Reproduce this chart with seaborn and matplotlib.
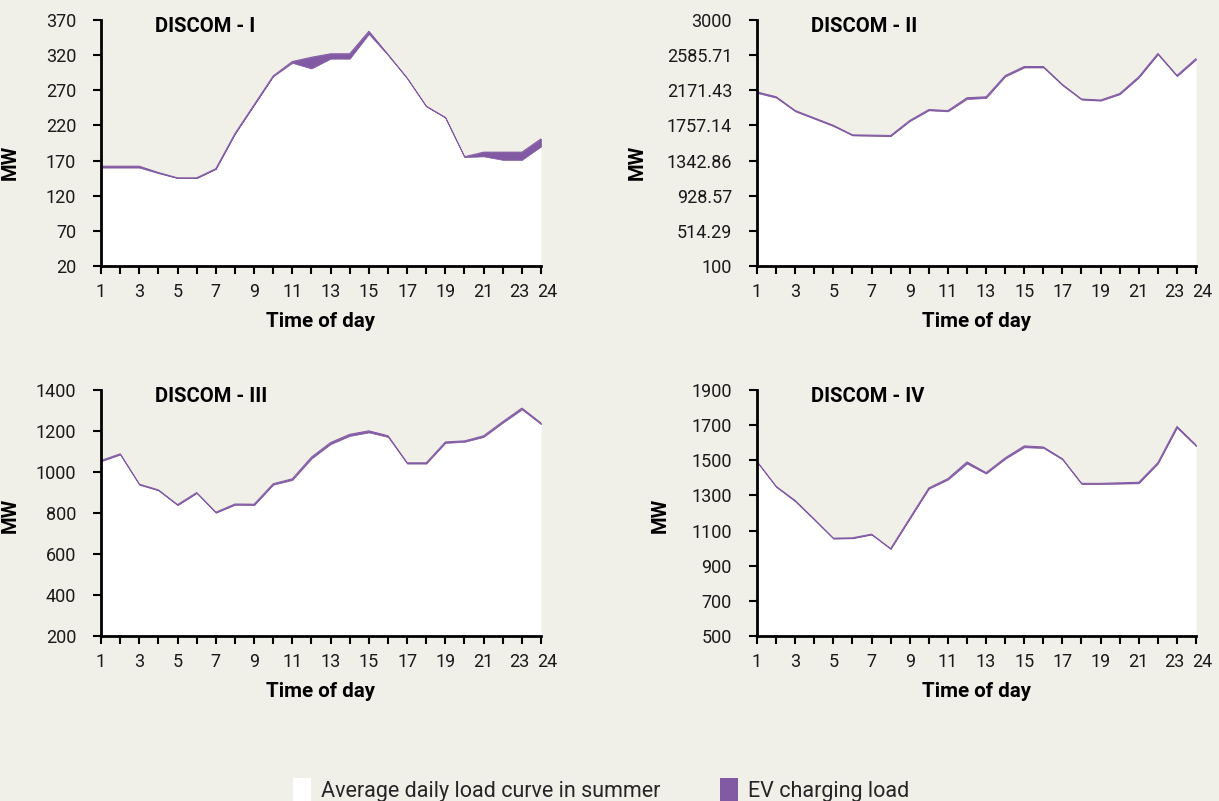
import matplotlib
matplotlib.use("Agg")
import matplotlib.pyplot as plt
import matplotlib.transforms as mtransforms
from matplotlib.patches import Patch
import seaborn as sns
import pandas as pd

# Hour of day
hours = list(range(1, 25))
hour_labels = [str(h) if (h % 2 == 1 or h == 24) else "" for h in hours]

# Average daily summer load (MW) per DISCOM
base_1 = [160, 160, 160, 152, 145, 145, 158, 208, 249, 290, 309, 301,
          315, 315, 350, 320, 287, 247, 231, 175, 176, 171, 171, 190]
base_2 = [2140, 2084, 1923, 1836, 1749, 1639, 1635, 1631, 1808, 1935, 1923, 2069,
          2080, 2333, 2440, 2440, 2230, 2061, 2049, 2124, 2321, 2594, 2337, 2534]
base_3 = [1052, 1085, 938, 910, 838, 897, 801, 840, 838, 938, 961, 1065,
          1136, 1176, 1193, 1171, 1041, 1041, 1142, 1147, 1171, 1240, 1305, 1233]
base_4 = [1490, 1348, 1266, 1161, 1054, 1056, 1077, 995, 1167, 1338, 1390, 1481,
          1424, 1508, 1574, 1570, 1504, 1365, 1365, 1367, 1369, 1481, 1685, 1580]

# Additional EV charging load (MW) stacked on top
ev_1 = [2, 2, 2, 1, 0.5, 0.5, 0.5, 0.5, 0.5, 0.5, 2, 16,
        7, 7, 4, 1, 0.5, 0.5, 0.5, 0.5, 6, 11, 11, 11]
ev_2 = [12, 12, 10, 10, 10, 8, 8, 8, 8, 10, 10, 15,
        15, 12, 12, 12, 10, 8, 8, 10, 10, 12, 10, 12]
ev_3 = [4, 4, 3, 3, 3, 3, 3, 4, 5, 5, 6, 8,
        8, 8, 8, 6, 4, 4, 5, 5, 6, 6, 7, 6]
ev_4 = [3, 4, 5, 4, 3, 3, 3, 3, 4, 5, 6, 10,
        6, 6, 8, 6, 5, 4, 4, 5, 6, 6, 8, 7]

titles = ["DISCOM - I", "DISCOM - II", "DISCOM - III", "DISCOM - IV"]

yticks_1 = [20, 70, 120, 170, 220, 270, 320, 370]
yticks_2 = [100, 514.29, 928.57, 1342.86, 1757.14, 2171.43, 2585.71, 3000]
yticks_3 = [200, 400, 600, 800, 1000, 1200, 1400]
yticks_4 = [500, 700, 900, 1100, 1300, 1500, 1700, 1900]
ytick_labels_2 = ["100", "514.29", "928.57", "1342.86", "1757.14",
                  "2171.43", "2585.71", "3000"]

legend_labels = ["Average daily load curve in summer", "EV charging load"]

BG = "#f0efe8"
PURPLE = "#815aa3"
TEXT_FONT = ["Roboto", "DejaVu Sans"]

sns.set_theme(style="ticks")
plt.rcParams["font.family"] = TEXT_FONT
plt.rcParams["axes.facecolor"] = BG
plt.rcParams["figure.facecolor"] = BG

fig = plt.figure(figsize=(12.19, 8.01), dpi=100)
W, H = 1219.0, 801.0

def axes_rect(left, right, top, bottom):
    return [left / W, 1 - bottom / H, (right - left) / W, (bottom - top) / H]

panels = [
    dict(rect=axes_rect(101, 541, 20, 266), base=base_1, ev=ev_1, yticks=yticks_1,
         ylabels=[str(v) for v in yticks_1], mw=(-0.185, 0.42)),
    dict(rect=axes_rect(757, 1196, 20, 266), base=base_2, ev=ev_2, yticks=yticks_2,
         ylabels=ytick_labels_2, mw=(-0.251, 0.42)),
    dict(rect=axes_rect(101, 541, 390, 636), base=base_3, ev=ev_3, yticks=yticks_3,
         ylabels=[str(v) for v in yticks_3], mw=(-0.184, 0.49)),
    dict(rect=axes_rect(757, 1196, 390, 636), base=base_4, ev=ev_4, yticks=yticks_4,
         ylabels=[str(v) for v in yticks_4], mw=(-0.198, 0.49)),
]

for title, p in zip(titles, panels):
    ax = fig.add_axes(p["rect"])
    ymin, ymax = p["yticks"][0], p["yticks"][-1]
    df = pd.DataFrame({"hour": hours, "base": p["base"], "ev": p["ev"]})
    df["total"] = df["base"] + df["ev"]

    ax.fill_between(df["hour"], ymin, df["base"], color="white", lw=0, zorder=1)
    ax.fill_between(df["hour"], df["base"], df["total"], color=PURPLE,
                    edgecolor=PURPLE, lw=0.5, zorder=2)
    sns.lineplot(data=df, x="hour", y="total", ax=ax, color=PURPLE, lw=0.7,
                 zorder=3)

    ax.set_xlim(1, 24)
    ax.set_ylim(ymin, ymax)
    ax.set_xticks(hours)
    ax.set_xticklabels(hour_labels)
    ax.set_yticks(p["yticks"])
    ax.set_yticklabels(p["ylabels"])

    for s in ("top", "right"):
        ax.spines[s].set_visible(False)
    for s in ("left", "bottom"):
        ax.spines[s].set_linewidth(2)
        ax.spines[s].set_color("black")
        ax.spines[s].set_zorder(5)
        ax.spines[s].set_capstyle("projecting")

    ax.tick_params(axis="y", direction="out", length=6, width=1.5,
                   pad=12, labelsize=13, colors="black")
    ax.tick_params(axis="x", direction="out", length=5.5, width=1.5,
                   pad=7, labelsize=13, colors="black")
    for lab in ax.get_xticklabels() + ax.get_yticklabels():
        lab.set_color("#1a1a1a")

    # spread the last two hour labels apart a little
    xlabs = ax.get_xticklabels()
    xlabs[-1].set_transform(xlabs[-1].get_transform() +
                            mtransforms.ScaledTranslation(6 / 100, 0, fig.dpi_scale_trans))
    xlabs[-2].set_transform(xlabs[-2].get_transform() +
                            mtransforms.ScaledTranslation(-3 / 100, 0, fig.dpi_scale_trans))

    ax.set_xlabel("Time of day", fontsize=14.8, fontweight="bold", color="black")
    ax.xaxis.set_label_coords(0.5, -0.185)
    ax.set_ylabel("MW", fontsize=14.5, fontweight="bold", color="black")
    ax.yaxis.set_label_coords(*p["mw"])

    ax.text(0.123, 0.973, title, transform=ax.transAxes, fontsize=14.5,
            fontweight="bold", va="center", ha="left", color="black")

handles = [Patch(facecolor="white", edgecolor="none"),
           Patch(facecolor=PURPLE, edgecolor="none")]
fig.legend(handles, legend_labels, loc="lower center", ncol=2,
           bbox_to_anchor=(0.493, -0.026), frameon=False, fontsize=15.5,
           handlelength=0.85, handleheight=1.4, handletextpad=0.45,
           columnspacing=2.8)

fig.savefig("out.png", dpi=100, facecolor=BG)
